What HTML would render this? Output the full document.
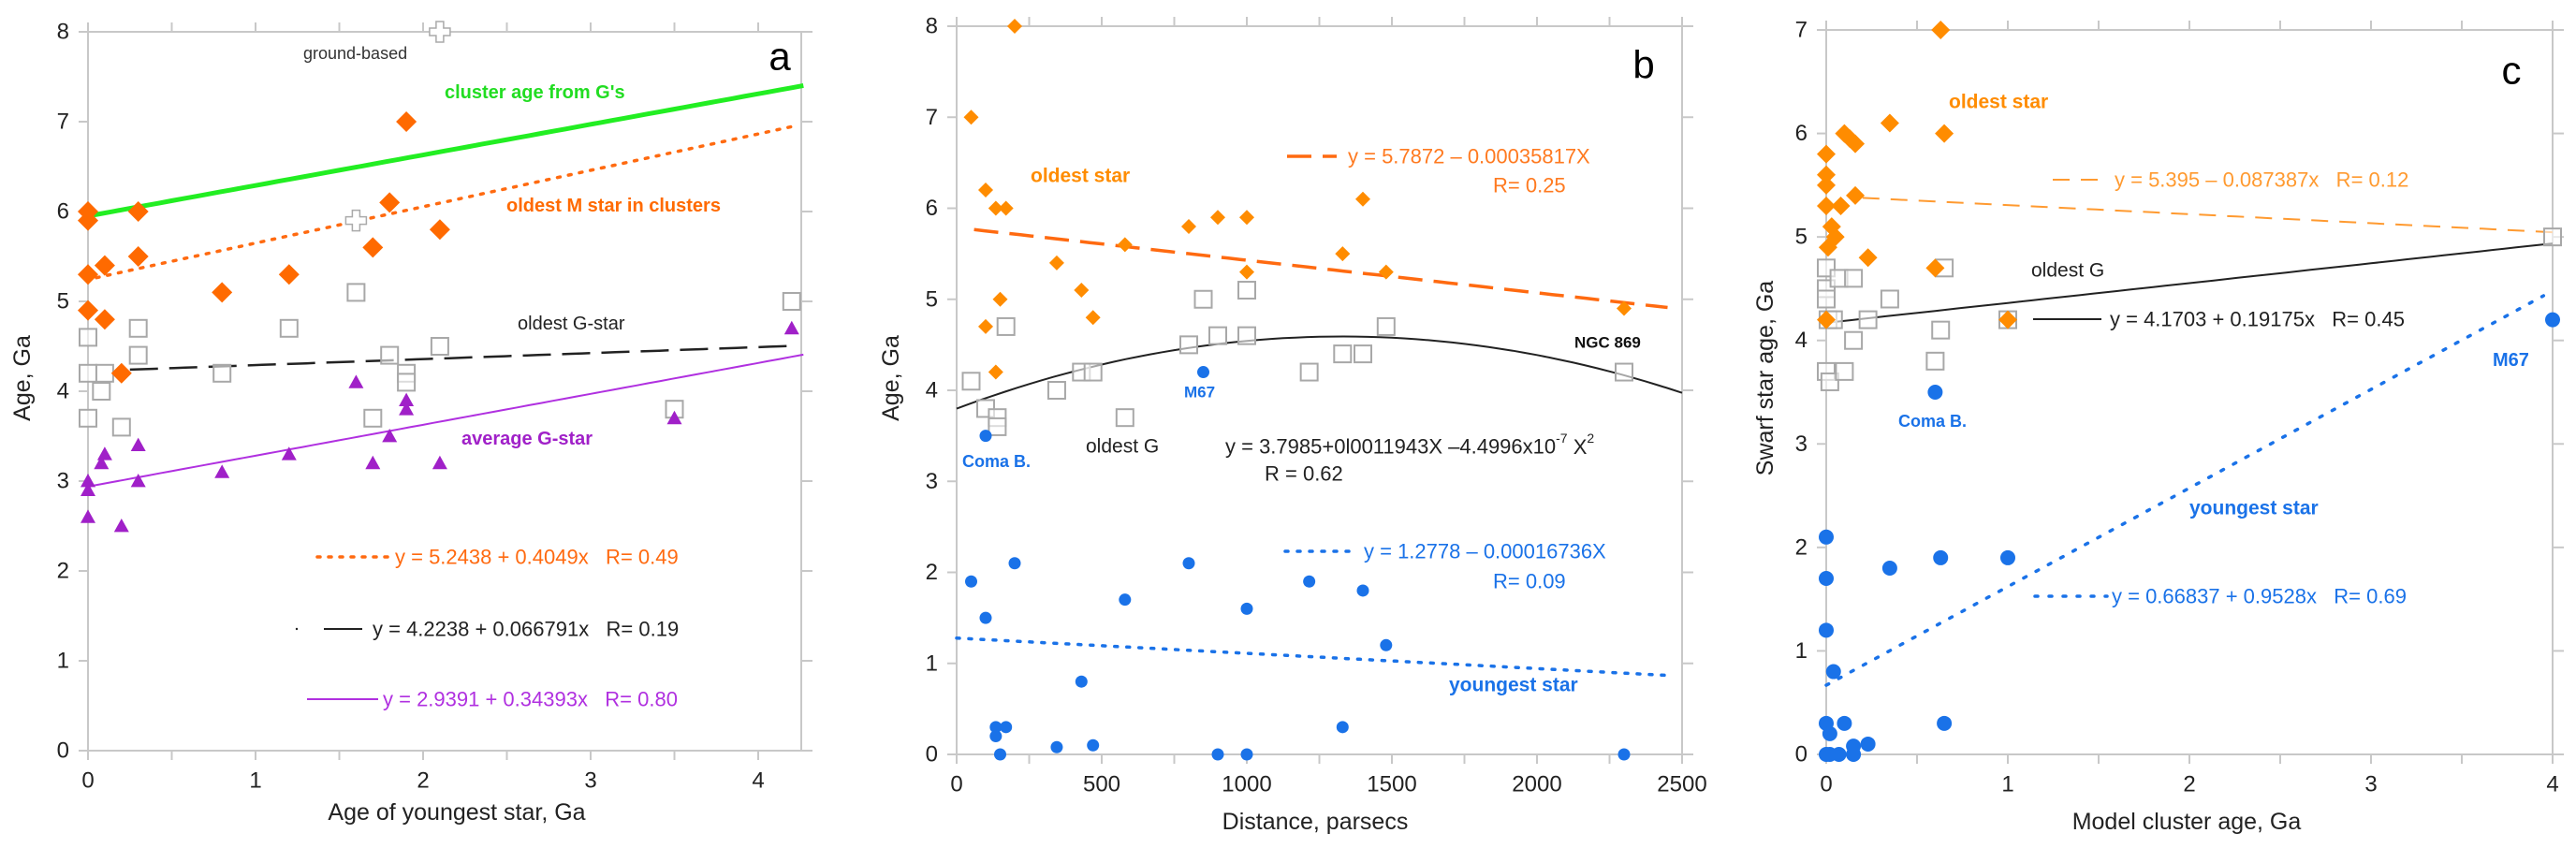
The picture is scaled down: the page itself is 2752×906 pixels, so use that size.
<!DOCTYPE html>
<html><head><meta charset="utf-8"><style>
html,body{margin:0;padding:0;background:#fff;}
svg{display:block;font-family:"Liberation Sans",Arial,sans-serif;}
svg text{white-space:pre;}
</style></head><body>
<svg id="fig" width="2752" height="906" viewBox="0 0 2752 906" xmlns="http://www.w3.org/2000/svg" xml:space="preserve"></svg>
<script>
// ---------- Panel a data ----------
const aDiamX=[0,0,0,0,0.1,0.1,0.2,0.3,0.3,0.8,1.2,1.7,1.8,1.9,2.1];
const aDiamY=[6.0,5.9,5.3,4.9,5.4,4.8,4.2,6.0,5.5,5.1,5.3,5.6,6.1,7.0,5.8];
const aSqX=[0,0,0,0.1,0.08,0.2,0.3,0.3,0.8,1.2,1.6,1.7,1.8,1.9,1.9,2.1,3.5,4.2];
const aSqY=[4.6,4.2,3.7,4.2,4.0,3.6,4.7,4.4,4.2,4.7,5.1,3.7,4.4,4.2,4.1,4.5,3.8,5.0];
const aTriX=[0,0,0,0.08,0.1,0.2,0.3,0.3,0.8,1.2,1.6,1.7,1.8,1.9,1.9,2.1,3.5,4.2];
const aTriY=[3.0,2.9,2.6,3.2,3.3,2.5,3.4,3.0,3.1,3.3,4.1,3.2,3.5,3.9,3.8,3.2,3.7,4.7];
const aCrossX=[1.6,2.1];
const aCrossY=[5.9,8.0];
const aXTicks=[0,1,2,3,4];
const aYTicks=[0,1,2,3,4,5,6,7,8];
// ---------- Panel b data ----------
const bDiamX=[50,100,135,170,200,100,135,150,345,430,470,580,800,900,1000,1000,1330,1400,1480,2300];
const bDiamY=[7.0,6.2,6.0,6.0,8.0,4.7,4.2,5.0,5.4,5.1,4.8,5.6,5.8,5.9,5.9,5.3,5.5,6.1,5.3,4.9];
const bSqX=[50,100,140,140,170,345,430,470,580,800,850,900,1000,1000,1215,1330,1400,1480,2300];
const bSqY=[4.1,3.8,3.7,3.6,4.7,4.0,4.2,4.2,3.7,4.5,5.0,4.6,5.1,4.6,4.2,4.4,4.4,4.7,4.2];
const bCircX=[100,850,50,100,200,135,135,170,150,345,430,470,580,800,900,1000,1000,1215,1330,1400,1480,2300];
const bCircY=[3.5,4.2,1.9,1.5,2.1,0.3,0.2,0.3,0,0.08,0.8,0.1,1.7,2.1,0,1.6,0,1.9,0.3,1.8,1.2,0];
const bXTicks=[0,500,1000,1500,2000,2500];
const bYTicks=[0,1,2,3,4,5,6,7,8];
// ---------- Panel c data ----------
const cDiamX=[0,0,0,0,0.01,0.03,0.05,0.08,0.1,0.13,0.16,0.16,0.23,0.35,0.6,0.63,0.65,0,1.0];
const cDiamY=[5.8,5.6,5.5,5.3,4.9,5.1,5.0,5.3,6.0,5.95,5.9,5.4,4.8,6.1,4.7,7.0,6.0,4.2,4.2];
const cSqX=[0,0,0,0.01,0.04,0.07,0.15,0,0.02,0.1,0.15,0.23,0.35,0.6,0.63,0.65,1.0,4.0];
const cSqY=[4.7,4.5,4.4,4.2,4.2,4.6,4.6,3.7,3.6,3.7,4.0,4.2,4.4,3.8,4.1,4.7,4.2,5.0];
const cCircX=[0,0,0,0.04,0,0.02,0,0.02,0.07,0.1,0.15,0.15,0.23,0.35,0.63,1.0,0.65,0.6,4.0];
const cCircY=[2.1,1.7,1.2,0.8,0.3,0.2,0,0,0,0.3,0.08,0,0.1,1.8,1.9,1.9,0.3,3.5,4.2];
const cXTicks=[0,1,2,3,4];
const cYTicks=[0,1,2,3,4,5,6,7];

const NS="http://www.w3.org/2000/svg";
const svg=document.getElementById('fig');
function mk(tag,attrs,parent){const e=document.createElementNS(NS,tag);for(const k in attrs)e.setAttribute(k,attrs[k]);(parent||svg).appendChild(e);return e;}
function txt(x,y,s,size,fill,opts,name){opts=opts||{};
  const t=mk('text',{x:x,y:y,'font-size':size,fill:fill,'text-anchor':opts.anchor||'start','font-weight':opts.bold?'bold':'normal','dominant-baseline':'central'});
  if(opts.rot)t.setAttribute('transform','rotate(-90 '+x+' '+y+')');
  t.textContent=s;
  
  
  return t;}

function makePanel(P){
  const g=mk('g',{});
  
  
  const sx=v=>P.x0+(v-P.xmin)/(P.xmax-P.xmin)*(P.x1-P.x0);
  const sy=v=>P.y0-(v-P.ymin)/(P.ymax-P.ymin)*(P.y0-P.y1);
  const L=P.x0, R=P.fr, T=sy(P.ymax), B=sy(P.ymin);
  const fr=mk('rect',{x:L,y:T,width:R-L,height:B-T,fill:'none',stroke:'#c8c8c8','stroke-width':2},g);
  
  
  P.xt.forEach(v=>{const x=sx(v);
    mk('line',{x1:x,y1:B,x2:x,y2:B+10,stroke:'#c8c8c8','stroke-width':2},g);
    mk('line',{x1:x,y1:T,x2:x,y2:T-10,stroke:'#c8c8c8','stroke-width':2},g);
    txt(x,B+32,String(v),24,'#222',{anchor:'middle'},'x-tick-label');});
  if(P.xminor)P.xminor.forEach(v=>{const x=sx(v);
    mk('line',{x1:x,y1:B,x2:x,y2:B+10,stroke:'#c8c8c8','stroke-width':2},g);
    mk('line',{x1:x,y1:T,x2:x,y2:T-10,stroke:'#c8c8c8','stroke-width':2},g);});
  P.yt.forEach(v=>{const y=sy(v);
    mk('line',{x1:L-10,y1:y,x2:L,y2:y,stroke:'#c8c8c8','stroke-width':2},g);
    mk('line',{x1:R,y1:y,x2:R+12,y2:y,stroke:'#c8c8c8','stroke-width':2},g);
    txt(L-20,y,String(v),24,'#222',{anchor:'end'},'y-tick-label');});
  return {g,sx,sy};
}
function line(g,sx,sy,f,xa,xb,style,name){
  let d='';const n=60;for(let i=0;i<=n;i++){const x=xa+(xb-xa)*i/n;d+=(i?'L':'M')+sx(x).toFixed(1)+','+sy(f(x)).toFixed(1);}
  const p=mk('path',Object.assign({d:d,fill:'none'},style),g);
  
  
}
function diamonds(g,sx,sy,X,Y,s,fill){X.forEach((v,i)=>{const x=sx(v),y=sy(Y[i]);
  const e=mk('polygon',{points:`${x},${y-s} ${x+s},${y} ${x},${y+s} ${x-s},${y}`,fill:fill},g);
  
  });}
function squares(g,sx,sy,X,Y,s){X.forEach((v,i)=>{const x=sx(v),y=sy(Y[i]);
  const e=mk('rect',{x:x-s,y:y-s,width:2*s,height:2*s,fill:'#fff','fill-opacity':0.6,stroke:'#a8a8a8','stroke-width':2},g);
  
  });}
function triangles(g,sx,sy,X,Y,s,fill){X.forEach((v,i)=>{const x=sx(v),y=sy(Y[i]);
  const e=mk('polygon',{points:`${x},${y-s} ${x+s},${y+s*0.8} ${x-s},${y+s*0.8}`,fill:fill},g);
  
  });}
function circles(g,sx,sy,X,Y,r,fill){X.forEach((v,i)=>{
  const e=mk('circle',{cx:sx(v),cy:sy(Y[i]),r:r,fill:fill},g);
  
  });}

// ===== Panel a =====
{
 const A=makePanel({name:'panel-a',x0:94,x1:810,xmin:0,xmax:4,fr:856,y0:802,y1:34,ymin:0,ymax:8,xt:aXTicks,yt:aYTicks,xminor:[0.5,1.5,2.5,3.5]});
 const {g,sx,sy}=A;
 line(g,sx,sy,x=>5.95+0.34*x,0,4.27,{stroke:'#22ee22','stroke-width':5},'cluster-age-line');
 line(g,sx,sy,x=>5.2438+0.4049*x,0.05,4.2,{stroke:'#ff6a10','stroke-width':3.5,'stroke-dasharray':'3 9','stroke-linecap':'round'},'oldest-m-trend');
 line(g,sx,sy,x=>4.2238+0.066791*x,0.25,4.2,{stroke:'#222','stroke-width':2.5,'stroke-dasharray':'30 12'},'oldest-g-trend');
 line(g,sx,sy,x=>2.9391+0.34393*x,0,4.27,{stroke:'#b030e0','stroke-width':2},'average-g-trend');
 squares(g,sx,sy,aSqX,aSqY,9);
 triangles(g,sx,sy,aTriX,aTriY,8,'#a020c8');
 diamonds(g,sx,sy,aDiamX,aDiamY,11,'#ff6a00');
 aCrossX.forEach((v,i)=>{const x=sx(v),y=sy(aCrossY[i]),a=4,b=11;
  const e=mk('polygon',{points:`${x-a},${y-b} ${x+a},${y-b} ${x+a},${y-a} ${x+b},${y-a} ${x+b},${y+a} ${x+a},${y+a} ${x+a},${y+b} ${x-a},${y+b} ${x-a},${y+a} ${x-b},${y+a} ${x-b},${y-a} ${x-a},${y-a}`,fill:'#fff',stroke:'#aaa','stroke-width':1.5},g);
  
  });
 txt(324,57,'ground-based',18,'#333',{},'ground-based-label');
 txt(475,99,"cluster age from G's",20,'#22dd22',{bold:1},'cluster-age-label');
 txt(541,220,'oldest M star in clusters',20,'#ff6a00',{bold:1},'oldest-m-label');
 txt(553,346,'oldest G-star',20,'#222',{},'oldest-g-label');
 txt(493,469,'average G-star',20,'#a020c8',{bold:1},'average-g-label');
 mk('line',{x1:339,y1:595,x2:418,y2:595,stroke:'#ff6a10','stroke-width':3.5,'stroke-dasharray':'3 9','stroke-linecap':'round'},g);
 txt(422,595,'y = 5.2438 + 0.4049x   R= 0.49',22,'#ff6a10',{},'oldest-m-equation');
 mk('circle',{cx:317,cy:672,r:1.2,fill:'#222'},g);
 mk('line',{x1:346,y1:672,x2:387,y2:672,stroke:'#222','stroke-width':2},g);
 txt(398,672,'y = 4.2238 + 0.066791x   R= 0.19',22,'#222',{},'oldest-g-equation');
 mk('line',{x1:328,y1:747,x2:404,y2:747,stroke:'#b030e0','stroke-width':2},g);
 txt(409,747,'y = 2.9391 + 0.34393x   R= 0.80',22,'#b030e0',{},'average-g-equation');
 txt(833,60,'a',42,'#000',{anchor:'middle'},'panel-letter-a');
 txt(24,404,'Age, Ga',25,'#222',{anchor:'middle',rot:1},'y-axis-title-a');
 txt(488,868,'Age of youngest star, Ga',25,'#222',{anchor:'middle'},'x-axis-title-a');
}
// ===== Panel b =====
{
 const B=makePanel({name:'panel-b',x0:1022,x1:1797,xmin:0,xmax:2500,fr:1797,y0:806,y1:28,ymin:0,ymax:8,xt:bXTicks,yt:bYTicks,xminor:[250,750,1250,1750,2250]});
 const {g,sx,sy}=B;
 line(g,sx,sy,x=>5.7872-0.00035817*x,60,2450,{stroke:'#ff6a10','stroke-width':3.5,'stroke-dasharray':'26 12'},'oldest-star-trend-b');
 line(g,sx,sy,x=>3.7985+0.0011943*x-4.4996e-7*x*x,0,2500,{stroke:'#222','stroke-width':2},'oldest-g-curve-b');
 line(g,sx,sy,x=>1.2778-0.00016736*x,0,2450,{stroke:'#1a72e8','stroke-width':3.5,'stroke-dasharray':'3 10','stroke-linecap':'round'},'youngest-trend-b');
 squares(g,sx,sy,bSqX,bSqY,9);
 diamonds(g,sx,sy,bDiamX,bDiamY,8,'#ff8c00');
 circles(g,sx,sy,bCircX,bCircY,6.5,'#1a72e8');
 txt(1101,188,'oldest star',21,'#ff8c00',{bold:1},'oldest-star-label-b');
 mk('line',{x1:1375,y1:167,x2:1428,y2:167,stroke:'#ff6a10','stroke-width':3.5,'stroke-dasharray':'26 12'},g);
 txt(1440,167,'y = 5.7872 – 0.00035817X',22,'#ff7a20',{},'oldest-star-equation-b');
 txt(1595,198,'R= 0.25',22,'#ff7a20',{},'oldest-star-r-b');
 txt(1682,366,'NGC 869',17,'#111',{bold:1},'ngc869-label');
 txt(1265,419,'M67',17,'#1a72e8',{bold:1},'m67-label-b');
 txt(1028,493,'Coma B.',18,'#1a72e8',{bold:1},'coma-label-b');
 txt(1160,477,'oldest G',21,'#222',{},'oldest-g-label-b');
 const eq=txt(1309,477,'y = 3.7985+0l0011943X –4.4996x10',22,'#222',{},'oldest-g-equation-b');
 const sup=mk('tspan',{'font-size':14,dy:-9},eq);sup.textContent='-7';
 const sp=mk('tspan',{'font-size':22,dy:9},eq);sp.textContent=' X';
 const sup2=mk('tspan',{'font-size':14,dy:-9},eq);sup2.textContent='2';
 txt(1351,506,'R = 0.62',22,'#222',{},'oldest-g-r-b');
 mk('line',{x1:1373,y1:589,x2:1449,y2:589,stroke:'#1a72e8','stroke-width':3.5,'stroke-dasharray':'3 10','stroke-linecap':'round'},g);
 txt(1457,589,'y = 1.2778 – 0.00016736X',22,'#1a72e8',{},'youngest-equation-b');
 txt(1595,621,'R= 0.09',22,'#1a72e8',{},'youngest-r-b');
 txt(1548,732,'youngest star',21,'#1a72e8',{bold:1},'youngest-label-b');
 txt(1756,69,'b',42,'#000',{anchor:'middle'},'panel-letter-b');
 txt(952,404,'Age, Ga',25,'#222',{anchor:'middle',rot:1},'y-axis-title-b');
 txt(1405,878,'Distance, parsecs',25,'#222',{anchor:'middle'},'x-axis-title-b');
}
// ===== Panel c =====
{
 const C=makePanel({name:'panel-c',x0:1951,x1:2727,xmin:0,xmax:4,fr:2727,y0:806,y1:32,ymin:0,ymax:7,xt:cXTicks,yt:cYTicks,xminor:[0.5,1.5,2.5,3.5]});
 const {g,sx,sy}=C;
 line(g,sx,sy,x=>5.395-0.087387*x,0.2,4.06,{stroke:'#ff9a30','stroke-width':2,'stroke-dasharray':'18 12'},'oldest-star-trend-c');
 line(g,sx,sy,x=>4.1703+0.19175*x,0,4,{stroke:'#222','stroke-width':2},'oldest-g-trend-c');
 line(g,sx,sy,x=>0.66837+0.9528*x,0,3.95,{stroke:'#1a72e8','stroke-width':3.5,'stroke-dasharray':'3 12','stroke-linecap':'round'},'youngest-trend-c');
 squares(g,sx,sy,cSqX,cSqY,9);
 diamonds(g,sx,sy,cDiamX,cDiamY,10,'#ff8c00');
 circles(g,sx,sy,cCircX,cCircY,8,'#1a72e8');
 txt(2082,109,'oldest star',21,'#ff8c00',{bold:1},'oldest-star-label-c');
 mk('line',{x1:2193,y1:192,x2:2247,y2:192,stroke:'#ff9a30','stroke-width':2,'stroke-dasharray':'18 12'},g);
 txt(2259,192,'y = 5.395 – 0.087387x   R= 0.12',22,'#ff9a30',{},'oldest-star-equation-c');
 txt(2170,289,'oldest G',21,'#222',{},'oldest-g-label-c');
 mk('line',{x1:2172,y1:341,x2:2245,y2:341,stroke:'#222','stroke-width':2},g);
 txt(2254,341,'y = 4.1703 + 0.19175x   R= 0.45',22,'#222',{},'oldest-g-equation-c');
 txt(2028,450,'Coma B.',18,'#1a72e8',{bold:1},'coma-label-c');
 txt(2663,385,'M67',20,'#1a72e8',{bold:1},'m67-label-c');
 txt(2339,543,'youngest star',21,'#1a72e8',{bold:1},'youngest-label-c');
 mk('line',{x1:2174,y1:637,x2:2251,y2:637,stroke:'#1a72e8','stroke-width':3.5,'stroke-dasharray':'3 12','stroke-linecap':'round'},g);
 txt(2256,637,'y = 0.66837 + 0.9528x   R= 0.69',22,'#1a72e8',{},'youngest-equation-c');
 txt(2683,75,'c',42,'#000',{anchor:'middle'},'panel-letter-c');
 txt(1886,404,'Swarf star age, Ga',25,'#222',{anchor:'middle',rot:1},'y-axis-title-c');
 txt(2336,878,'Model cluster age, Ga',25,'#222',{anchor:'middle'},'x-axis-title-c');
}
</script>
</body></html>
